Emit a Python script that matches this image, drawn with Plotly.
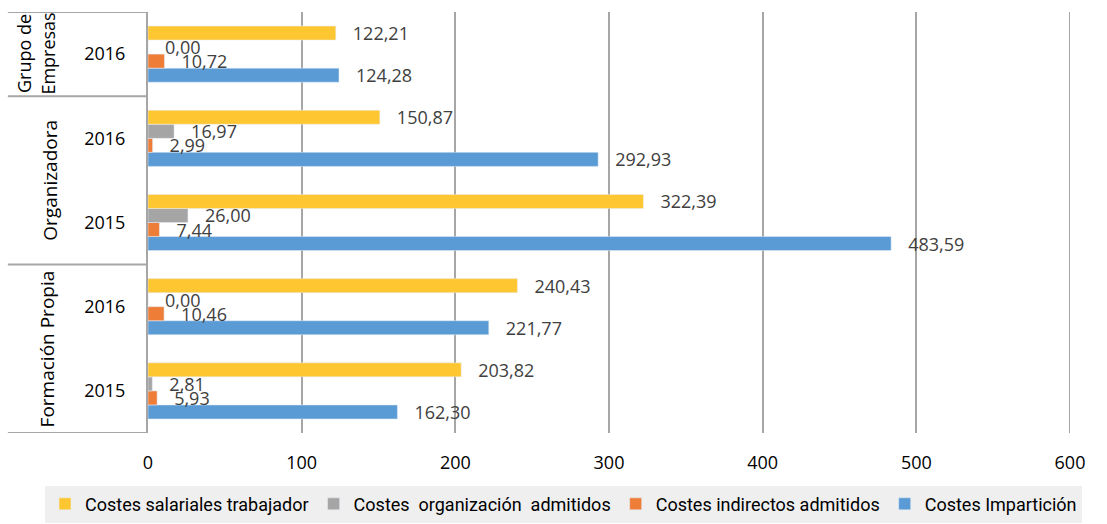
import plotly.graph_objects as go

# categories, bottom to top
groups = ["Formación Propia", "Formación Propia", "Organizadora", "Organizadora", "Grupo de<br>Empresas"]
years = ["2015", "2016", "2015", "2016", "2016"]

series_names = [
    "Costes salariales trabajador",
    "Costes  organización  admitidos",
    "Costes indirectos admitidos",
    "Costes Impartición",
]
salariales = [203.82, 240.43, 322.39, 150.87, 122.21]
organizacion = [2.81, 0.00, 26.00, 16.97, 0.00]
indirectos = [5.93, 10.46, 7.44, 2.99, 10.72]
imparticion = [162.30, 221.77, 483.59, 292.93, 124.28]

colors = ["#FEC732", "#A5A5A5", "#EE7D38", "#5B9BD5"]
x_ticks = [0, 100, 200, 300, 400, 500, 600]

FONT = "Open Sans, Liberation Sans, sans-serif"
NARROW = "Roboto, Liberation Sans Narrow, sans-serif"
GRID = "#A6A6A6"


def fmt(v):
    return "\u00a0\u00a0\u00a0" + f"{v:.2f}".replace(".", ",")


idx = list(range(len(years)))
fig = go.Figure()
# plotly places grouped horizontal bars bottom-up, so add blue first
data = [salariales, organizacion, indirectos, imparticion]
for k in [3, 2, 1, 0]:
    fig.add_trace(
        go.Bar(
            y=idx,
            x=data[k],
            orientation="h",
            name=series_names[k],
            marker_color=colors[k],
            text=[fmt(v) for v in data[k]],
            textposition="outside",
            constraintext="none",
            cliponaxis=False,
            textfont=dict(family=FONT, size=18, color="#404040"),
        )
    )

# group labels on the left, rotated
seen = []
for g in groups:
    if g not in seen:
        seen.append(g)
xpos = {"Formación Propia": -0.110, "Organizadora": -0.106, "Grupo de<br>Empresas": -0.122}
fsize = {"Formación Propia": 19, "Organizadora": 19, "Grupo de<br>Empresas": 18}
for g in seen:
    pos = [i for i in idx if groups[i] == g]
    fig.add_annotation(
        x=xpos[g], xref="paper", y=sum(pos) / len(pos), yref="y",
        xanchor="center", yanchor="middle",
        text=g, textangle=-90, showarrow=False,
        font=dict(family=FONT, size=fsize[g], color="black"),
    )

# table-like separator lines between groups
bounds = [-0.5] + [i + 0.5 for i in idx[:-1] if groups[i] != groups[i + 1]] + [len(idx) - 0.5]
for b in bounds:
    fig.add_shape(
        type="line", xref="paper", yref="y", x0=-0.152, x1=0, y0=b, y1=b,
        line=dict(color=GRID, width=2),
    )
# plotly drops the gridline sitting on the range end, draw it by hand
fig.add_shape(
    type="line", xref="x", yref="paper", x0=x_ticks[-1], x1=x_ticks[-1], y0=0, y1=1,
    line=dict(color=GRID, width=2), layer="below",
)

fig.update_layout(
    width=1107,
    height=524,
    margin=dict(l=148, r=37, t=12, b=91, autoexpand=False),
    barmode="group",
    bargap=0.333,
    bargroupgap=0,
    plot_bgcolor="white",
    paper_bgcolor="white",
    font=dict(family=FONT, size=16, color="black"),
    legend=dict(
        orientation="h",
        traceorder="reversed",
        x=-0.1117, xanchor="left",
        y=-0.125, yanchor="top",
        bgcolor="#EFEFEF",
        font=dict(family=NARROW, size=18, color="black"),
        itemwidth=30,
    ),
)
fig.update_xaxes(
    range=[0, 600],
    tickvals=x_ticks,
    showgrid=True,
    gridcolor=GRID,
    gridwidth=2,
    zeroline=False,
    ticks="",
    automargin=False,
    ticklabelstandoff=17,
    tickfont=dict(family=FONT, size=18, color="black"),
)
fig.update_yaxes(
    range=[-0.5, len(idx) - 0.5],
    tickvals=idx,
    ticktext=years,
    showgrid=False,
    zeroline=False,
    showline=True,
    linecolor=GRID,
    linewidth=2,
    ticks="",
    automargin=False,
    ticklabelstandoff=17,
    tickfont=dict(family=FONT, size=18, color="black"),
)

fig.write_html(
    "out.html",
    config={"displayModeBar": False},
    post_script="document.body.style.margin='0';",
)
